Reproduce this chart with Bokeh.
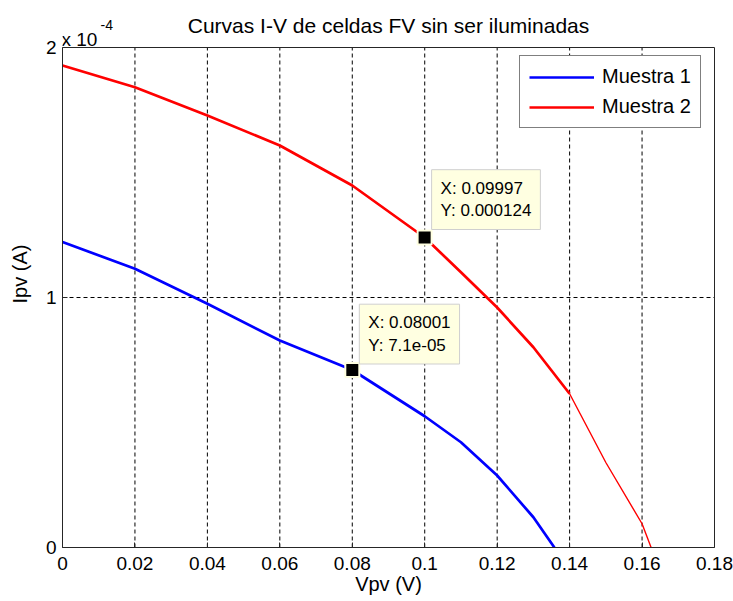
from bokeh.plotting import figure
from bokeh.models import (Label, Legend, LegendItem, FixedTicker, Range1d, Span, LinearAxis)
from bokeh.embed import file_html
from bokeh.resources import INLINE

# ---------------- data ----------------
title_text = "Curvas I-V de celdas FV sin ser iluminadas"
x_label = "Vpv (V)"
y_label = "Ipv (A)"
x_ticks = [0, 0.02, 0.04, 0.06, 0.08, 0.10, 0.12, 0.14, 0.16, 0.18]
x_tick_labels = ["0", "0.02", "0.04", "0.06", "0.08", "0.1", "0.12", "0.14", "0.16", "0.18"]
y_ticks = [0, 1e-4, 2e-4]
y_tick_labels = ["0", "1", "2"]
exp_base = "x 10"
exp_power = "-4"

series_names = ["Muestra 1", "Muestra 2"]
v_muestra1 = [0, 0.02, 0.04, 0.06, 0.08, 0.10, 0.11, 0.12, 0.13, 0.1358]
i_muestra1 = [1.222e-4, 1.115e-4, 0.975e-4, 0.828e-4, 0.710e-4, 0.525e-4,
              0.421e-4, 0.288e-4, 0.121e-4, 0.0]
v_muestra2 = [0, 0.02, 0.04, 0.06, 0.08, 0.10, 0.11, 0.12, 0.13, 0.14, 0.15, 0.16, 0.1625]
i_muestra2 = [1.928e-4, 1.841e-4, 1.728e-4, 1.608e-4, 1.448e-4, 1.240e-4,
              1.101e-4, 0.960e-4, 0.801e-4, 0.615e-4, 0.340e-4, 0.095e-4, 0.0]

tip_x = [0.08001, 0.09997]
tip_y = [7.1e-05, 0.000124]
tip_texts = ["X: 0.08001\nY: 7.1e-05", "X: 0.09997\nY: 0.000124"]

# ---------------- layout / styling ----------------
FONT = "Liberation Sans"
AX_COLOR = "#262626"
BLUE = "#0000FF"
RED = "#FF0000"
W, H = 733, 601
BORDER_L, BORDER_R, BORDER_B = 62, 19, 54
FRAME_W = W - BORDER_L - BORDER_R
FRAME_H = H - BORDER_B          # frame reaches the top of the canvas
AXES_TOP = 47                   # pixel row of the top of the axes box
y_end = y_ticks[-1] * FRAME_H / (FRAME_H - AXES_TOP)
box_bounds = (y_ticks[0], y_ticks[-1])

p = figure(width=W, height=H, output_backend="svg", toolbar_location=None,
           x_range=Range1d(x_ticks[0], x_ticks[-1]), y_range=Range1d(y_ticks[0], y_end),
           min_border_left=BORDER_L, min_border_right=BORDER_R, min_border_top=0,
           min_border_bottom=BORDER_B)
p.background_fill_color = "white"
p.border_fill_color = "white"
p.outline_line_color = None
p.xgrid.visible = False

xax = p.xaxis[0]
yax = p.yaxis[0]
xax.ticker = FixedTicker(ticks=x_ticks)
yax.ticker = FixedTicker(ticks=y_ticks)
yax.bounds = box_bounds
xax.major_label_overrides = {t: s for t, s in zip(x_ticks, x_tick_labels)}
yax.major_label_overrides = {t: s for t, s in zip(y_ticks, y_tick_labels)}
for ax in (xax, yax):
    ax.axis_line_color = AX_COLOR
    ax.axis_line_width = 1
    ax.major_tick_line_color = AX_COLOR
    ax.major_tick_in = 5
    ax.major_tick_out = 0
    ax.minor_tick_line_color = None
    ax.major_label_text_font = FONT
    ax.major_label_text_font_size = "19px"
    ax.major_label_text_color = "black"
    ax.axis_label_text_font = FONT
    ax.axis_label_text_font_size = "20px"
    ax.axis_label_text_font_style = "normal"
    ax.axis_label_text_color = "black"
xax.axis_label = x_label
yax.axis_label = y_label
xax.major_label_standoff = 9
xax.axis_label_standoff = 0
yax.major_label_standoff = 6
yax.axis_label_standoff = 12

# right and top edges of the axes box
right_axis = LinearAxis(ticker=FixedTicker(ticks=[]), bounds=box_bounds,
                        axis_line_color=AX_COLOR, axis_line_width=1,
                        major_tick_line_color=None, minor_tick_line_color=None)
p.add_layout(right_axis, "right")
p.add_layout(Span(location=y_ticks[-1], dimension="width", line_color=AX_COLOR, line_width=1))

# grid (vertical lines limited to the axes box)
p.ygrid.ticker = FixedTicker(ticks=y_ticks)
p.ygrid.grid_line_color = "black"
p.ygrid.grid_line_dash = "4 3"
p.ygrid.grid_line_width = 1
inner_x = x_ticks[1:-1]
p.segment(x0=inner_x, y0=[y_ticks[0]] * len(inner_x), x1=inner_x, y1=[y_ticks[-1]] * len(inner_x),
          line_color="black", line_dash="4 3", line_width=1)

# curves
r1 = p.line(v_muestra1, i_muestra1, line_color=BLUE, line_width=2.7)
k = v_muestra2.index(0.14) + 1
r2 = p.line(v_muestra2[:k], i_muestra2[:k], line_color=RED, line_width=2.7)
p.line(v_muestra2[k - 1:], i_muestra2[k - 1:], line_color=RED, line_width=1.4)

legend = Legend(items=[LegendItem(label=series_names[0], renderers=[r1]),
                       LegendItem(label=series_names[1], renderers=[r2])],
                location=(457, FRAME_H - 128), padding=9, spacing=7,
                glyph_width=65, glyph_height=20, label_standoff=8,
                label_text_font=FONT, label_text_font_size="20px",
                label_text_color="black",
                border_line_color="black", border_line_width=1,
                background_fill_color="white", background_fill_alpha=1)
p.add_layout(legend)

# data tips
p.scatter(tip_x, tip_y, marker="square", size=14, fill_color="black",
          line_color="#FFFFE1", line_width=2)
tip_offsets = [(7, 6), (7, 8)]
for tx, ty, tt, (dx, dy) in zip(tip_x, tip_y, tip_texts, tip_offsets):
    p.add_layout(Label(x=tx, y=ty, text=tt, x_offset=dx, y_offset=dy,
                       anchor="bottom_left", text_align="left",
                       text_font=FONT, text_font_size="17px", text_color="black",
                       text_line_height=1.2,
                       background_fill_color="#FFFFE1", background_fill_alpha=1,
                       border_line_color="#CFCFCF", border_line_width=1, padding=9))

# title and exponent (screen units, relative to the frame, y upward)
p.add_layout(Label(x=FRAME_W / 2, y=FRAME_H - 25, x_units="screen", y_units="screen",
                   text=title_text, text_align="center", text_baseline="middle",
                   text_font=FONT, text_font_size="21px", text_color="black"))
p.add_layout(Label(x=-1, y=FRAME_H - 39, x_units="screen", y_units="screen", text=exp_base,
                   text_align="left", text_baseline="alphabetic",
                   text_font=FONT, text_font_size="19px", text_color="black"))
p.add_layout(Label(x=38, y=FRAME_H - 24, x_units="screen", y_units="screen", text=exp_power,
                   text_align="left", text_baseline="alphabetic",
                   text_font=FONT, text_font_size="14px", text_color="black"))

open("out.html", "w").write(file_html(p, INLINE))
